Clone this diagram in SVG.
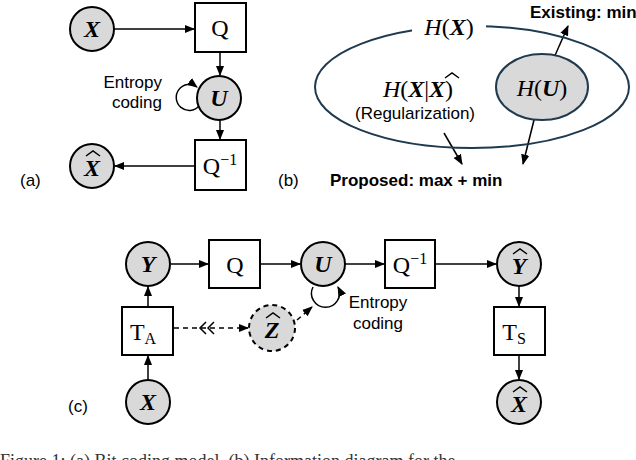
<svg xmlns="http://www.w3.org/2000/svg" width="636" height="460" viewBox="0 0 636 460">
<style>
.n{fill:#d9d9d9;stroke:#000;stroke-width:2}
.b{fill:#fff;stroke:#000;stroke-width:2}
.v{font-family:"Liberation Serif",serif;font-weight:bold;font-style:italic;font-size:24px;text-anchor:middle}
.q{font-family:"Liberation Serif",serif;font-size:24px;text-anchor:middle}
.s{font-family:"Liberation Sans",Arial,sans-serif;font-size:17px}
.bb{font-family:"Liberation Sans",Arial,sans-serif;font-size:17px;font-weight:bold}
.l{fill:none;stroke:#000;stroke-width:1.5}
.h{fill:none;stroke:#000;stroke-width:1.5}
.d{fill:none;stroke:#000;stroke-width:1.5;stroke-dasharray:5,4}
</style>
<defs><marker id="a" viewBox="0 0 10 10" refX="9" refY="5" markerWidth="7" markerHeight="7" orient="auto"><path d="M0,1 L10,5 L0,9 z"/></marker></defs>
<g id="a-X"><circle class="n" cx="92" cy="29" r="22"/><text class="v" x="92" y="37">X</text></g>
<g id="a-Q"><rect class="b" x="195" y="3" width="51" height="49"/><text class="q" x="220" y="36">Q</text></g>
<g id="a-U"><circle class="n" cx="219" cy="98" r="22"/><text class="v" x="219" y="106">U</text></g>
<g id="a-Qi"><rect class="b" x="195" y="140" width="51" height="50"/><text class="q" x="220" y="174">Q<tspan font-size="16" dy="-9">−1</tspan></text></g>
<g id="a-Xh"><circle class="n" cx="92" cy="166" r="22"/><text class="v" x="92" y="176">X</text><path class="h" d="M86,156 L93,151 L100,156"/></g>
<text class="s" x="162" y="88" text-anchor="end">Entropy</text>
<text class="s" x="162" y="108" text-anchor="end">coding</text>
<text class="s" x="20" y="186" font-size="20">(a)</text>
<text class="s" x="278" y="186" font-size="20">(b)</text>
<text class="s" x="68" y="412" font-size="20">(c)</text>
<g id="connectors">
<line class="l" x1="114" y1="29" x2="194" y2="29" marker-end="url(#a)"/>
<line class="l" x1="220" y1="52" x2="220" y2="75" marker-end="url(#a)"/>
<line class="l" x1="220" y1="120" x2="220" y2="139" marker-end="url(#a)"/>
<line class="l" x1="195" y1="166" x2="115" y2="166" marker-end="url(#a)"/>
<path class="l" d="M199,106 A13,13 0 1 1 197,87" marker-end="url(#a)"/>
<line class="l" x1="553" y1="60" x2="568" y2="26" marker-end="url(#a)"/>
<line class="l" x1="444" y1="133" x2="462" y2="164" marker-end="url(#a)"/>
<line class="l" x1="536" y1="112" x2="523" y2="164" marker-end="url(#a)"/>
<line class="l" x1="171" y1="264" x2="208" y2="264" marker-end="url(#a)"/>
<line class="l" x1="260" y1="264" x2="300" y2="264" marker-end="url(#a)"/>
<line class="l" x1="345" y1="264" x2="384" y2="264" marker-end="url(#a)"/>
<line class="l" x1="435" y1="264" x2="496" y2="264" marker-end="url(#a)"/>
<line class="l" x1="148" y1="307" x2="148" y2="287" marker-end="url(#a)"/>
<line class="l" x1="148" y1="380" x2="148" y2="356" marker-end="url(#a)"/>
<line class="l" x1="519" y1="286" x2="519" y2="306" marker-end="url(#a)"/>
<line class="l" x1="519" y1="355" x2="519" y2="379" marker-end="url(#a)"/>
<path class="l" d="M313,287 A14,14 0 1 0 338,287" marker-end="url(#a)"/>
<line class="d" x1="174" y1="328" x2="248" y2="328" marker-end="url(#a)"/>
<path class="l" d="M206,322 L200,328 L206,334 M214,322 L208,328 L214,334" fill="none"/>
<line class="d" x1="297" y1="320" x2="312" y2="307" marker-end="url(#a)"/>
</g>
<g id="b-outer"><ellipse cx="472" cy="87" rx="157" ry="61" fill="none" stroke="#1f3a4f" stroke-width="2"/></g>
<rect x="412" y="12" width="74" height="30" fill="#fff"/>
<text class="q" x="449" y="35" font-size="27"><tspan font-style="italic">H</tspan>(<tspan font-weight="bold" font-style="italic">X</tspan>)</text>
<g id="b-inner"><ellipse cx="542" cy="87" rx="46" ry="33" fill="#d9d9d9" stroke="#1f3a4f" stroke-width="2"/><text class="q" x="542" y="96" font-size="27"><tspan font-style="italic">H</tspan>(<tspan font-weight="bold" font-style="italic">U</tspan>)</text></g>
<text class="q" x="418" y="97" font-size="27"><tspan font-style="italic">H</tspan>(<tspan font-weight="bold" font-style="italic">X</tspan>|<tspan font-weight="bold" font-style="italic">X</tspan>)</text>
<path class="h" d="M445,78 L452,73 L459,78"/>
<text class="s" x="415" y="119" text-anchor="middle" font-size="16">(Regularization)</text>
<text class="bb" x="530" y="18">Existing: min</text>
<text class="bb" x="330" y="186">Proposed: max + min</text>
<g id="c-Y"><circle class="n" cx="148" cy="264" r="22"/><text class="v" x="148" y="272">Y</text></g>
<g id="c-Q"><rect class="b" x="209" y="240" width="51" height="48"/><text class="q" x="235" y="273">Q</text></g>
<g id="c-U"><circle class="n" cx="323" cy="264" r="22"/><text class="v" x="323" y="272">U</text></g>
<g id="c-Qi"><rect class="b" x="385" y="240" width="50" height="48"/><text class="q" x="410" y="273">Q<tspan font-size="16" dy="-9">−1</tspan></text></g>
<g id="c-Yh"><circle class="n" cx="519" cy="264" r="22"/><text class="v" x="519" y="274">Y</text><path class="h" d="M513,254 L520,249 L527,254"/></g>
<g id="c-TS"><rect class="b" x="494" y="307" width="51" height="48"/><text class="q" x="514" y="340">T<tspan font-size="16" dy="4">S</tspan></text></g>
<g id="c-TA"><rect class="b" x="122" y="307" width="51" height="48"/><text class="q" x="143" y="340">T<tspan font-size="16" dy="4">A</tspan></text></g>
<g id="c-X"><circle class="n" cx="148" cy="402" r="22"/><text class="v" x="148" y="410">X</text></g>
<g id="c-Xh"><circle class="n" cx="519" cy="402" r="22"/><text class="v" x="519" y="412">X</text><path class="h" d="M513,392 L520,387 L527,392"/></g>
<g id="c-Z"><circle class="n" cx="272" cy="328" r="23" stroke-dasharray="5,4"/><text class="v" x="272" y="338">Z</text><path class="h" d="M266,318 L273,313 L280,318"/></g>
<text class="s" x="378" y="308" text-anchor="middle">Entropy</text>
<text class="s" x="378" y="329" text-anchor="middle">coding</text>
<text x="0" y="467" font-family="Liberation Serif,serif" font-size="18" fill="#333">Figure 1: (a) Bit coding model. (b) Information diagram for the</text>
</svg>
